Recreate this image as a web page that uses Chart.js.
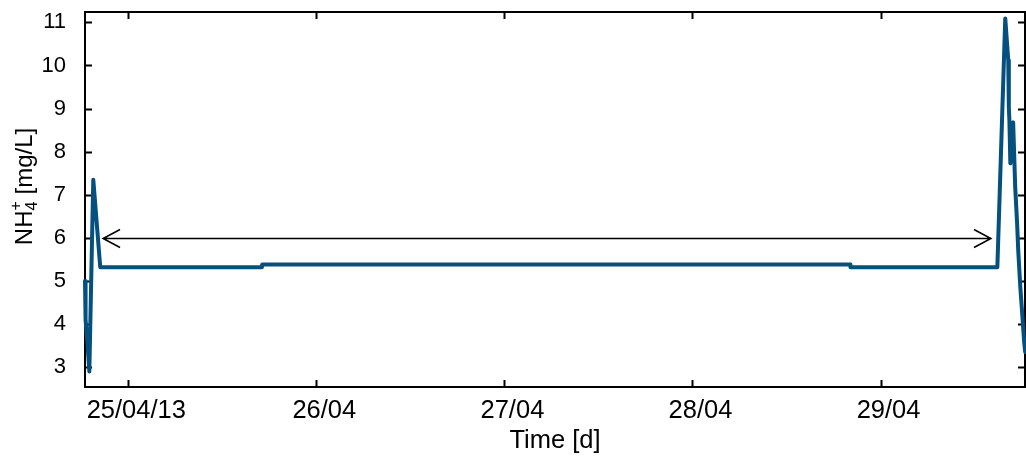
<!DOCTYPE html>
<html>
<head>
<meta charset="utf-8">
<script src="https://cdn.jsdelivr.net/npm/chart.js@4/dist/chart.umd.min.js"></script>
<style>
html, body { margin: 0; padding: 0; background: #fff; }
canvas { display: block; }
</style>
</head>
<body>
<canvas id="nh4-chart" width="1026" height="458"></canvas>
<script>
// time as day of April 2013, NH4+ in mg/L
var timeDays = [24.770, 24.771, 24.775, 24.784, 24.793, 24.814, 24.851, 25.711, 25.712, 28.839,
                28.840, 29.621, 29.663, 29.679, 29.682, 29.685, 29.690, 29.700, 29.705, 29.716,
                29.726, 29.732, 29.743, 29.753, 29.764, 29.769];
var nh4Values = [5.0, 4.4, 4.1, 3.5, 2.9, 7.35, 5.32, 5.32, 5.38, 5.38,
                 5.32, 5.32, 11.09, 10.12, 9.03, 8.73, 7.73, 8.6, 8.68, 7.17,
                 6.34, 5.71, 4.86, 4.25, 3.56, 3.35];
var xTicks = [25, 26, 27, 28, 29];
var xTickLabels = ['25/04/13', '26/04', '27/04', '28/04', '29/04'];
var yTicks = [3, 4, 5, 6, 7, 8, 9, 10, 11];
var arrowX = [24.866, 29.587];
var arrowY = 6;

var lineColor = '#04507f';
var fontName = '"Liberation Sans", Arial, Helvetica, sans-serif';

var points = timeDays.map(function (t, i) { return { x: t, y: nh4Values[i] }; });

function noPadding(scale) {
	scale.paddingTop = 0;
	scale.paddingBottom = 0;
	scale.paddingLeft = 0;
	scale.paddingRight = 0;
}

var framePlugin = {
	id: 'frame',
	beforeDatasetsDraw: function (chart) {
		var ctx = chart.ctx, a = chart.chartArea;
		var xs = chart.scales.x, ys = chart.scales.y;
		ctx.save();

		// double arrow
		var ay = Math.round(ys.getPixelForValue(arrowY)) + 0.5;
		var ax0 = xs.getPixelForValue(arrowX[0]);
		var ax1 = xs.getPixelForValue(arrowX[1]);
		ctx.strokeStyle = '#000';
		ctx.lineWidth = 1.5;
		ctx.beginPath();
		ctx.moveTo(ax0, ay); ctx.lineTo(ax1, ay);
		ctx.moveTo(ax0 + 17, ay - 9); ctx.lineTo(ax0, ay); ctx.lineTo(ax0 + 17, ay + 9);
		ctx.moveTo(ax1 - 17, ay - 9); ctx.lineTo(ax1, ay); ctx.lineTo(ax1 - 17, ay + 9);
		ctx.stroke();

		// box
		ctx.lineWidth = 2;
		ctx.strokeRect(a.left, a.top, a.right - a.left, a.bottom - a.top);

		// inward ticks on all four sides
		ctx.beginPath();
		xTicks.forEach(function (v) {
			var px = Math.round(xs.getPixelForValue(v)) + 0.5;
			ctx.moveTo(px, a.bottom); ctx.lineTo(px, a.bottom - 7);
			ctx.moveTo(px, a.top); ctx.lineTo(px, a.top + 7);
		});
		yTicks.forEach(function (v) {
			var py = Math.round(ys.getPixelForValue(v)) + 0.5;
			ctx.moveTo(a.left, py); ctx.lineTo(a.left + 7, py);
			ctx.moveTo(a.right, py); ctx.lineTo(a.right - 7, py);
		});
		ctx.stroke();

		// y title with sub- and superscript
		var big = 'px ' + fontName;
		ctx.fillStyle = '#000';
		ctx.textBaseline = 'alphabetic';
		var parts = [
			{ t: 'NH', size: 24, dy: 0 },
			{ t: '4', size: 16, dy: 5 },
			{ t: '+', size: 16, dy: -11 },
			{ t: ' [mg/L]', size: 24, dy: 0 }
		];
		var widths = parts.map(function (p) { ctx.font = p.size + big; return ctx.measureText(p.t).width; });
		// the superscript sits above the subscript
		var total = widths[0] + Math.max(widths[1], widths[2]) + widths[3];
		var cy = (a.top + a.bottom) / 2 - 13;
		ctx.translate(32, cy);
		ctx.rotate(-Math.PI / 2);
		var x = -total / 2;
		ctx.font = parts[0].size + big; ctx.fillText(parts[0].t, x, 0); x += widths[0];
		ctx.font = parts[1].size + big; ctx.fillText(parts[1].t, x, parts[1].dy);
		ctx.font = parts[2].size + big; ctx.fillText(parts[2].t, x, parts[2].dy);
		x += Math.max(widths[1], widths[2]);
		ctx.font = parts[3].size + big; ctx.fillText(parts[3].t, x, 0);
		ctx.restore();
	}
};

var ctx = document.getElementById('nh4-chart');
var chart = new Chart(ctx, {
	type: 'line',
	data: {
		datasets: [{
			data: points,
			borderColor: lineColor,
			borderWidth: 4,
			borderJoinStyle: 'round',
			borderCapStyle: 'round',
			pointRadius: 0,
			fill: false,
			tension: 0,
			clip: false
		}]
	},
	options: {
		responsive: false,
		animation: false,
		devicePixelRatio: 1,
		layout: { padding: { top: 12, right: 1, left: 0, bottom: 0 } },
		plugins: {
			legend: { display: false },
			tooltip: { enabled: false }
		},
		scales: {
			x: {
				type: 'linear',
				min: 24.770,
				max: 29.768,
				afterBuildTicks: function (scale) {
					scale.ticks = xTicks.map(function (v) { return { value: v }; });
				},
				afterFit: function (scale) { scale.height = 71; noPadding(scale); },
				grid: { display: false, drawTicks: false },
				border: { display: false },
				ticks: {
					padding: 9,
					labelOffset: 8,
					color: '#000',
					font: { family: fontName, size: 25.5 },
					maxRotation: 0,
					autoSkip: false,
					callback: function (v) { return xTickLabels[xTicks.indexOf(v)]; }
				},
				title: {
					display: true,
					text: 'Time [d]',
					color: '#000',
					font: { family: fontName, size: 25.5 },
					padding: { top: 0, bottom: 2 }
				}
			},
			y: {
				min: 2.54,
				max: 11.24,
				afterBuildTicks: function (scale) {
					scale.ticks = yTicks.map(function (v) { return { value: v }; });
				},
				afterFit: function (scale) { scale.width = 85; noPadding(scale); },
				grid: { display: false, drawTicks: false },
				border: { display: false },
				ticks: {
					padding: 19,
					color: '#000',
					font: { family: fontName, size: 22 }
				}
			}
		}
	},
	plugins: [framePlugin]
});
</script>
</body>
</html>
